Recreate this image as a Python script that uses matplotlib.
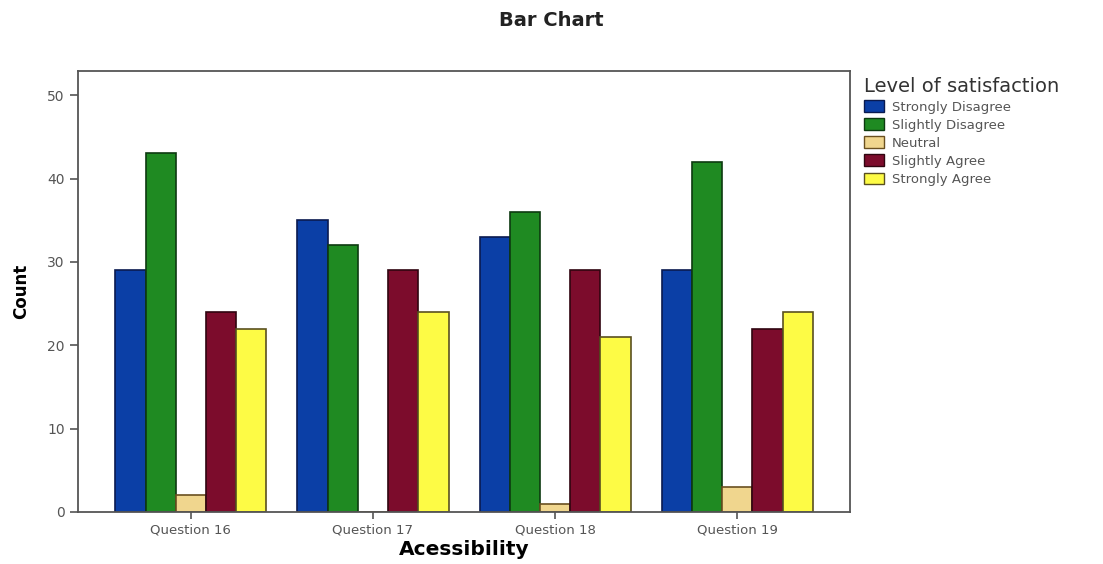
import matplotlib.pyplot as plt
import numpy as np
from matplotlib.patches import Patch

plt.rcParams['font.family'] = ['DejaVu Sans']

questions = ["Question 16", "Question 17", "Question 18", "Question 19"]
levels = ["Strongly Disagree", "Slightly Disagree", "Neutral", "Slightly Agree", "Strongly Agree"]
strongly_disagree = [29, 35, 33, 29]
slightly_disagree = [43, 32, 36, 42]
neutral = [2, 0, 1, 3]
slightly_agree = [24, 29, 29, 22]
strongly_agree = [22, 24, 21, 24]

series = [strongly_disagree, slightly_disagree, neutral, slightly_agree, strongly_agree]
colors = ["#0b3fa6", "#1f8a22", "#f0d68e", "#7c0c2c", "#fdfb45"]
edges = ["#0a1a50", "#0d3a10", "#6a5020", "#300510", "#5a5020"]

fig = plt.figure(figsize=(11.03, 5.64), dpi=100)
ax = fig.add_axes([0.0707, 0.0922, 0.70, 0.782])

x = np.arange(len(questions))
w = 0.166
for i, vals in enumerate(series):
    ax.bar(x + (i - 2) * w, vals, width=w, color=colors[i], edgecolor=edges[i], linewidth=1.2)

ax.set_xlim(-0.62, 3.62)
ax.set_ylim(0, 52.9)
ax.set_yticks([0, 10, 20, 30, 40, 50])
ax.set_xticks(x)
ax.set_xticklabels(questions, fontsize=9.5, color="#555555")
ax.tick_params(axis="y", labelsize=10, labelcolor="#555555", color="#555555", width=1.2, length=6)
ax.tick_params(axis="x", color="#555555", width=1.2, length=5)
for s in ax.spines.values():
    s.set_color("#555555")
    s.set_linewidth(1.3)

ax.set_xlabel("Acessibility", fontsize=14.5, fontweight="bold", labelpad=2)
ax.set_ylabel("Count", fontsize=12, fontweight="bold", family="Liberation Sans Narrow", labelpad=12)
fig.suptitle("Bar Chart", x=0.5, y=0.98, fontsize=14, fontweight="bold", color="#222222")

handles = [Patch(facecolor=colors[i], edgecolor=edges[i], label=levels[i]) for i in range(5)]
leg = fig.legend(handles=handles, title="Level of satisfaction", loc="upper left",
                 bbox_to_anchor=(0.776, 0.878), frameon=False, fontsize=9.5,
                 title_fontsize=14, handlelength=1.5, handleheight=1.0,
                 labelspacing=0.35, handletextpad=0.6, labelcolor="#555555",
                 borderaxespad=0.2)
leg.get_title().set_color("#333333")
leg._legend_box.align = "left"

fig.savefig("out.png", dpi=100)
